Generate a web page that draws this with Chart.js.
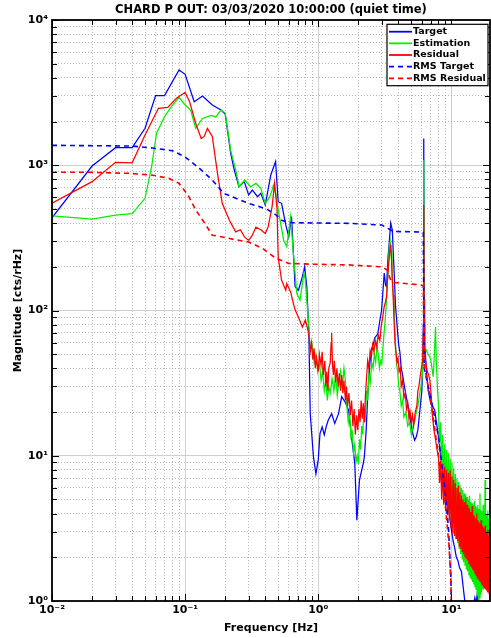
<!DOCTYPE html>
<html>
<head>
<meta charset="utf-8">
<script src="https://cdn.jsdelivr.net/npm/chart.js@4"></script>
<style>
  html, body { margin: 0; padding: 0; background: #fff; }
</style>
</head>
<body>
<canvas id="psd" width="491" height="638"></canvas>
<script>
// Spectra of CHARD P OUT (cts/rHz) against frequency (Hz)
const targetFreq = [0.01,0.02,0.03,0.04,0.05,0.06,0.07,0.09,0.10,0.117,0.135,0.16,0.186,0.2,0.22,0.234,0.254,0.278,0.30,0.32,0.35,0.37,0.40,0.44,0.478,0.50,0.53,0.57,0.60,0.63,0.67,0.71,0.76,0.79,0.82,0.85,0.87,0.92,0.96,1.0,1.03,1.07,1.11,1.15,1.19,1.26,1.33,1.42,1.5,1.59,1.69,1.79,1.88,1.95,2.04,2.18,2.22,2.29,2.35,2.42,2.49,2.58,2.66,2.8,2.9,2.99,3.13,3.2,3.26,3.34,3.41,3.5,3.6,3.66,3.73,3.8,3.88,3.95,4.02,4.1,4.2,4.3,4.4,4.5,4.6,4.8,5.0,5.15,5.3,5.45,5.6,5.75,5.9,6.0,6.1,6.15,6.2,6.25,6.3,6.5,6.7,7.0,7.5,8.0,8.3,8.6,8.9,9.2,9.4,9.7,10.0,10.3,10.6,10.9,11.2,11.5,11.9,12.2,12.5,12.8,13.5,14.5,15.0,15.3,15.6,16.0,17.0,19.5];
const targetMag = [435,988,1321,1321,1796,3013,3013,4529,4226,2739,2998,2600,2400,2250,1209,927,711,771,624,674,607,641,533,857,1060,561,547,388,322,443,146,138,171,200,146,70,19.6,9.85,7.5,9.4,14.2,15.8,13.9,16,17.6,19.5,16.7,19.5,25.5,23.5,20.6,12.8,8.9,3.6,6.8,8.9,9.85,15,25.5,39,53,58,65,69,85,100,181,150,146,230,290,400,358,250,170,110,86,70,58,52,40,36,31.5,28,25,20.6,16,14,12.8,13.5,15,19,24,28,45,80,1531,120,60,38,28,23,20.6,13.5,10,8,6.5,5.2,4.7,3.8,3.1,2.6,2.3,2.0,1.9,1.7,1.6,1.3,1.07,0.9,0.85,0.9,1.05,0.95,1.1,0.85,0.8,0.8];

const estFreq = [0.01,0.02,0.03,0.04,0.05,0.056,0.061,0.07,0.078,0.09,0.10,0.11,0.12,0.135,0.157,0.17,0.186,0.2,0.22,0.24,0.254,0.28,0.31,0.34,0.37,0.40,0.43,0.45,0.46,0.48,0.50,0.55,0.58,0.62,0.65,0.69,0.73,0.78,0.80,0.85,
  0.87,0.9,0.93,0.96,0.99,1.02,1.05,1.08,1.11,1.14,1.17,1.2,1.23,1.27,1.31,1.35,1.39,1.43,1.47,1.52,1.56,1.6,1.64,1.68,1.72,1.76,1.8,1.84,1.88,1.92,1.96,2.0,2.04,2.08,2.12,2.16,2.2,2.25,2.3,2.35,2.4,2.46,2.52,2.58,2.64,2.7,2.76,2.82,2.88,2.94,3.0,3.06,3.12,3.18,3.24,3.3,3.36,3.42,3.47,3.52,3.58,3.64,3.7,3.76,3.82,3.88,3.95,4.02,4.1,4.2,4.3,4.4,4.55,4.7,4.85,5.0,5.15,5.3,5.45,5.6,5.75,5.9,6.05,6.15,6.2,6.25,6.3,6.4,6.55,6.7,6.85,7.0,7.15,7.3,7.45,7.6,7.7,7.85,8.0,
  8.15,8.3,8.45,8.6,8.75,8.9,9.05,9.2,9.35,9.5,9.65,9.8,9.95,10.1,10.25,10.4,10.55,10.7,10.85,11.0,11.15,11.3,11.45,11.6,11.75,11.9,12.05,12.2,12.35,12.5,12.65,12.8,12.95,13.1,13.25,13.4,13.55,13.7,13.85,14.0,14.15,14.3,14.45,14.6,14.75,14.9,15.05,15.2,15.35,15.5,15.65,15.8,15.95,16.1,16.25,16.4,16.55,16.7,16.85,17.0,17.15,17.3,17.45,17.6,17.75,17.9,18.05,18.2,18.35,18.5,18.65,18.8,18.95,19.1,19.25,19.4,19.5];
const estMag = [448,426,453,465,592,977,1660,2158,2500,2937,2600,2400,1796,2100,2200,2150,2400,2290,1260,927,711,791,711,750,695,547,600,674,727,641,493,304,275,443,248,131,118,181,162,77,
  53,58,44,50,38,44,33,38,28,33,24,30,27,34,28,36,26,32,38,30,40,33,22,17,20,13,15,10.5,12,9,10,8.8,13,11,16,14,20,17,28,24,36,32,44,40,50,44,58,50,40,45,43,55,70,85,110,150,200,280,300,260,190,140,110,75,55,42,38,30,28,22,24,18.5,20,16,17,14,16,17,20,22,26,30,36,55,1087,90,60,55,52,50,48,46,40,35,50,77,45,30,22,
  12,17,8,14,6.5,12,5.5,11,4.8,10.4,4.2,9.5,3.8,9.0,3.4,8.2,3.0,7.5,2.7,7.0,2.5,6.6,2.3,6.3,2.1,6.0,1.95,5.8,1.85,5.5,1.75,5.4,1.65,5.2,1.6,5.0,1.5,5.3,1.45,4.8,1.4,4.7,1.35,4.6,1.3,4.9,1.25,4.5,1.2,4.4,1.1,4.6,1.0,4.3,1.05,5.5,1.1,4.2,1.15,4.1,1.2,4.6,1.2,4.0,1.25,6.8,1.25,3.9,1.3,3.8,1.3,4.2,1.3,3.7,1.35,3.6,2.0];

const resFreq = [0.01,0.02,0.03,0.04,0.05,0.063,0.074,0.086,0.10,0.108,0.12,0.132,0.139,0.147,0.16,0.175,0.19,0.215,0.24,0.26,0.28,0.30,0.32,0.34,0.37,0.40,0.42,0.45,0.47,0.49,0.50,0.53,0.57,0.58,0.62,0.65,0.67,0.71,0.76,0.80,0.85,
  0.87,0.89,0.91,0.93,0.95,0.97,1.0,1.02,1.05,1.07,1.09,1.12,1.14,1.16,1.18,1.2,1.23,1.25,1.26,1.28,1.3,1.32,1.35,1.38,1.41,1.44,1.47,1.5,1.53,1.56,1.6,1.63,1.66,1.7,1.74,1.78,1.82,1.86,1.9,1.94,1.98,2.02,2.06,2.1,2.14,2.18,2.22,2.26,2.3,2.35,2.4,2.45,2.5,2.56,2.62,2.68,2.75,2.82,2.9,2.97,3.05,3.12,3.2,3.26,3.32,3.38,3.44,3.5,3.55,3.6,3.65,3.7,3.77,3.83,3.9,3.97,4.05,4.13,4.2,4.3,4.4,4.5,4.6,4.7,4.8,4.9,5.0,5.1,5.2,5.35,5.5,5.6,5.7,5.8,5.9,6.0,6.1,6.15,6.2,6.25,6.3,6.45,6.6,6.75,6.9,7.05,7.2,7.4,7.6,7.8,8.0,
  8.15,8.3,8.45,8.6,8.75,8.9,9.05,9.2,9.35,9.5,9.65,9.8,9.95,10.1,10.25,10.4,10.55,10.7,10.85,11.0,11.15,11.3,11.45,11.6,11.75,11.9,12.05,12.2,12.35,12.5,12.65,12.8,12.95,13.1,13.25,13.4,13.55,13.7,13.85,14.0,14.15,14.3,14.45,14.6,14.75,14.9,15.05,15.2,15.35,15.5,15.65,15.8,15.95,16.1,16.25,16.4,16.55,16.7,16.85,17.0,17.15,17.3,17.45,17.6,17.75,17.9,18.05,18.2,18.35,18.5,18.65,18.8,18.95,19.1,19.25,19.4,19.5];
const resMag = [547,771,1048,1040,1615,2466,2500,2890,3178,2740,1945,1529,1580,1796,1580,880,547,418,348,360,320,304,330,375,360,339,375,519,750,500,233,162,138,153,134,112,101,90,77,86,69,
  52,60,46,55,40,47,38,50,42,52,36,45,30,38,28,40,44,60,70,42,36,45,32,40,30,37,28,36,27,33,24,30,22,27,19,24,16,21,14,19,15,21,17,24,18,23,17,26,33,45,40,52,47,58,52,62,56,68,62,78,90,105,115,125,170,210,250,285,230,160,128,90,60,52,44,47,38,40,30,33,25,27,21,23,18,20,17,19,16,20,22,28,30,34,38,42,48,70,533,80,50,42,38,36,33,26,19,15,13,11,9.8,
  6.5,9.2,5.0,8.8,4.6,8.4,4.2,8.0,3.9,7.6,3.6,7.9,3.2,7.2,2.9,6.8,2.8,6.5,2.7,6.0,2.6,6.2,2.4,5.6,2.3,5.3,2.2,5.0,2.1,4.8,2.0,5.1,1.95,4.6,1.9,4.4,1.8,4.3,1.75,4.1,1.7,4.5,1.65,3.9,1.6,3.8,1.55,3.7,1.5,4.0,1.45,3.6,1.42,3.5,1.38,3.4,1.35,3.6,1.3,3.3,1.28,3.2,1.25,3.1,1.22,3.3,1.2,3.0,1.18,2.9,1.16,3.1,1.15,2.8,1.12,2.7,1.5];

const rmsTargetFreq = [0.01,0.04,0.057,0.08,0.10,0.128,0.16,0.195,0.254,0.30,0.36,0.42,0.48,0.53,0.63,1.7,3.0,3.5,3.7,5.3,6.15,6.25,7.0,8.0,9.0,9.5,9.9,10.0];
const rmsTargetMag = [1371,1356,1314,1260,1140,953,791,641,580,547,519,493,456,418,402,398,388,358,350,348,346,40,25,13.5,5.5,3.2,1.5,0.9];

const rmsResFreq = [0.01,0.019,0.038,0.057,0.076,0.09,0.105,0.12,0.14,0.16,0.186,0.227,0.30,0.38,0.48,0.60,0.95,1.7,3.0,3.3,3.5,3.7,5.9,6.15,6.25,7.0,8.0,9.0,9.6,9.9,10.0];
const rmsResMag = [894,894,880,854,811,750,624,493,400,330,322,310,296,268,229,211,208,206,200,190,162,156,150,148,42,24,10,4.6,2.4,1.4,0.9];

// decade tick labels
const xDecades = [0.01, 0.1, 1, 10];
const xDecadeLabels = ['10⁻²', '10⁻¹', '10⁰', '10¹'];
const yDecades = [1, 10, 100, 1000, 10000];
const yDecadeLabels = ['10⁰', '10¹', '10²', '10³', '10⁴'];

const FONT = "'DejaVu Sans', sans-serif";

function isDecade(v) {
  const e = Math.log10(v);
  return Math.abs(e - Math.round(e)) < 1e-6;
}
function isGridValue(v) {
  const e = Math.floor(Math.log10(v) + 1e-9);
  const m = v / Math.pow(10, e);
  return Math.abs(m - Math.round(m)) < 1e-6;
}
function decadeLabel(v, decades, labels) {
  const i = decades.findIndex(d => Math.abs(Math.log10(v / d)) < 1e-6);
  return i < 0 ? '' : labels[i];
}
const pts = (fs, ms) => fs.map((f, i) => ({ x: f, y: ms[i] }));

const gridColor = ctx => (ctx.tick && isDecade(ctx.tick.value)) ? '#cfcfcf' : '#b9b9b9';
const gridDash = ctx => (ctx.tick && isDecade(ctx.tick.value)) ? [] : [1, 2];

// MATLAB-style box with inward tick marks
const axesFrame = {
  id: 'axesFrame',
  afterDatasetsDraw(chart) {
    const { ctx, chartArea: a, scales: { x, y } } = chart;
    ctx.save();
    ctx.strokeStyle = '#000';
    ctx.lineWidth = 1;
    ctx.beginPath();
    x.ticks.forEach(t => {
      const px = Math.round(x.getPixelForValue(t.value)) + 0.5;
      const len = isDecade(t.value) ? 7 : 5;
      ctx.moveTo(px, a.bottom); ctx.lineTo(px, a.bottom - len);
      ctx.moveTo(px, a.top); ctx.lineTo(px, a.top + len);
    });
    y.ticks.forEach(t => {
      const py = Math.round(y.getPixelForValue(t.value)) + 0.5;
      const len = isDecade(t.value) ? 7 : 5;
      ctx.moveTo(a.left, py); ctx.lineTo(a.left + len, py);
      ctx.moveTo(a.right, py); ctx.lineTo(a.right - len, py);
    });
    ctx.stroke();
    ctx.lineWidth = 1.8;
    ctx.strokeRect(a.left, a.top, a.right - a.left, a.bottom - a.top);
    ctx.restore();
  }
};

// boxed legend in the upper right corner of the axes
const boxLegend = {
  id: 'boxLegend',
  afterDraw(chart) {
    const { ctx, chartArea: a } = chart;
    const sets = chart.data.datasets;
    const w = 101, rowH = 11.65, padY = 7.4;
    const h = padY * 2 + rowH * (sets.length - 1);
    const left = a.right - 2 - w, top = a.top + 4.3;
    ctx.save();
    ctx.fillStyle = '#fff';
    ctx.fillRect(left, top, w, h);
    ctx.strokeStyle = '#000';
    ctx.lineWidth = 1.2;
    ctx.strokeRect(left, top, w, h);
    ctx.font = 'bold 9.5px ' + FONT;
    ctx.textBaseline = 'middle';
    sets.forEach((ds, i) => {
      const cy = top + padY + i * rowH;
      ctx.strokeStyle = ds.borderColor;
      ctx.lineWidth = 1.8;
      ctx.setLineDash(ds.borderDash || []);
      ctx.beginPath();
      ctx.moveTo(left + 2, cy);
      ctx.lineTo(left + 25, cy);
      ctx.stroke();
      ctx.setLineDash([]);
      ctx.fillStyle = '#000';
      ctx.fillText(ds.label, left + 26, cy);
    });
    ctx.restore();
  }
};

new Chart(document.getElementById('psd'), {
  type: 'line',
  data: {
    datasets: [
      { label: 'Target', data: pts(targetFreq, targetMag), borderColor: '#0000ff', borderWidth: 1.25, order: 4 },
      { label: 'Estimation', data: pts(estFreq, estMag), borderColor: '#00ee00', borderWidth: 1.25, order: 3 },
      { label: 'Residual', data: pts(resFreq, resMag), borderColor: '#ff0000', borderWidth: 1.25, order: 2 },
      { label: 'RMS Target', data: pts(rmsTargetFreq, rmsTargetMag), borderColor: '#0000ff', borderWidth: 1.6, borderDash: [5, 4], order: 1 },
      { label: 'RMS Residual', data: pts(rmsResFreq, rmsResMag), borderColor: '#ff0000', borderWidth: 1.6, borderDash: [5, 4], order: 0 }
    ]
  },
  options: {
    responsive: false,
    animation: false,
    layout: { padding: { left: 0, right: 1, top: 0, bottom: 0 } },
    elements: { point: { radius: 0 }, line: { tension: 0 } },
    plugins: {
      legend: { display: false },
      tooltip: { enabled: false },
      title: {
        display: true,
        text: 'CHARD P OUT: 03/03/2020 10:00:00 (quiet time)',
        color: '#000',
        fullSize: false,
        font: { family: FONT, size: 11.5, weight: 'bold' },
        padding: { top: 3.6, bottom: 2.6 }
      }
    },
    scales: {
      x: {
        type: 'logarithmic',
        min: 0.01,
        max: 19.5,
        afterBuildTicks: s => { s.ticks = s.ticks.filter(t => isGridValue(t.value)); },
        afterFit: s => { s.height = 37; },
        grid: { color: gridColor, lineWidth: 1, drawTicks: false },
        border: { display: false, dash: gridDash },
        ticks: {
          autoSkip: false,
          maxRotation: 0,
          padding: 3,
          color: '#000',
          font: { family: FONT, size: 11, weight: 'bold' },
          callback: v => decadeLabel(v, xDecades, xDecadeLabels)
        },
        title: {
          display: true,
          text: 'Frequency [Hz]',
          color: '#000',
          font: { family: FONT, size: 11, weight: 'bold' },
          padding: { top: 0, bottom: 3.4 }
        }
      },
      y: {
        type: 'logarithmic',
        min: 1,
        max: 10000,
        afterBuildTicks: s => { s.ticks = s.ticks.filter(t => isGridValue(t.value)); },
        afterFit: s => { s.width = 52; },
        grid: { color: gridColor, lineWidth: 1, drawTicks: false },
        border: { display: false, dash: gridDash },
        ticks: {
          autoSkip: false,
          padding: 4,
          color: '#000',
          font: { family: FONT, size: 11, weight: 'bold' },
          callback: v => decadeLabel(v, yDecades, yDecadeLabels)
        },
        title: {
          display: true,
          text: 'Magnitude [cts/rHz]',
          color: '#000',
          font: { family: FONT, size: 11, weight: 'bold' },
          padding: { top: 11.5, bottom: 0 }
        }
      }
    }
  },
  plugins: [axesFrame, boxLegend]
});
</script>
</body>
</html>
